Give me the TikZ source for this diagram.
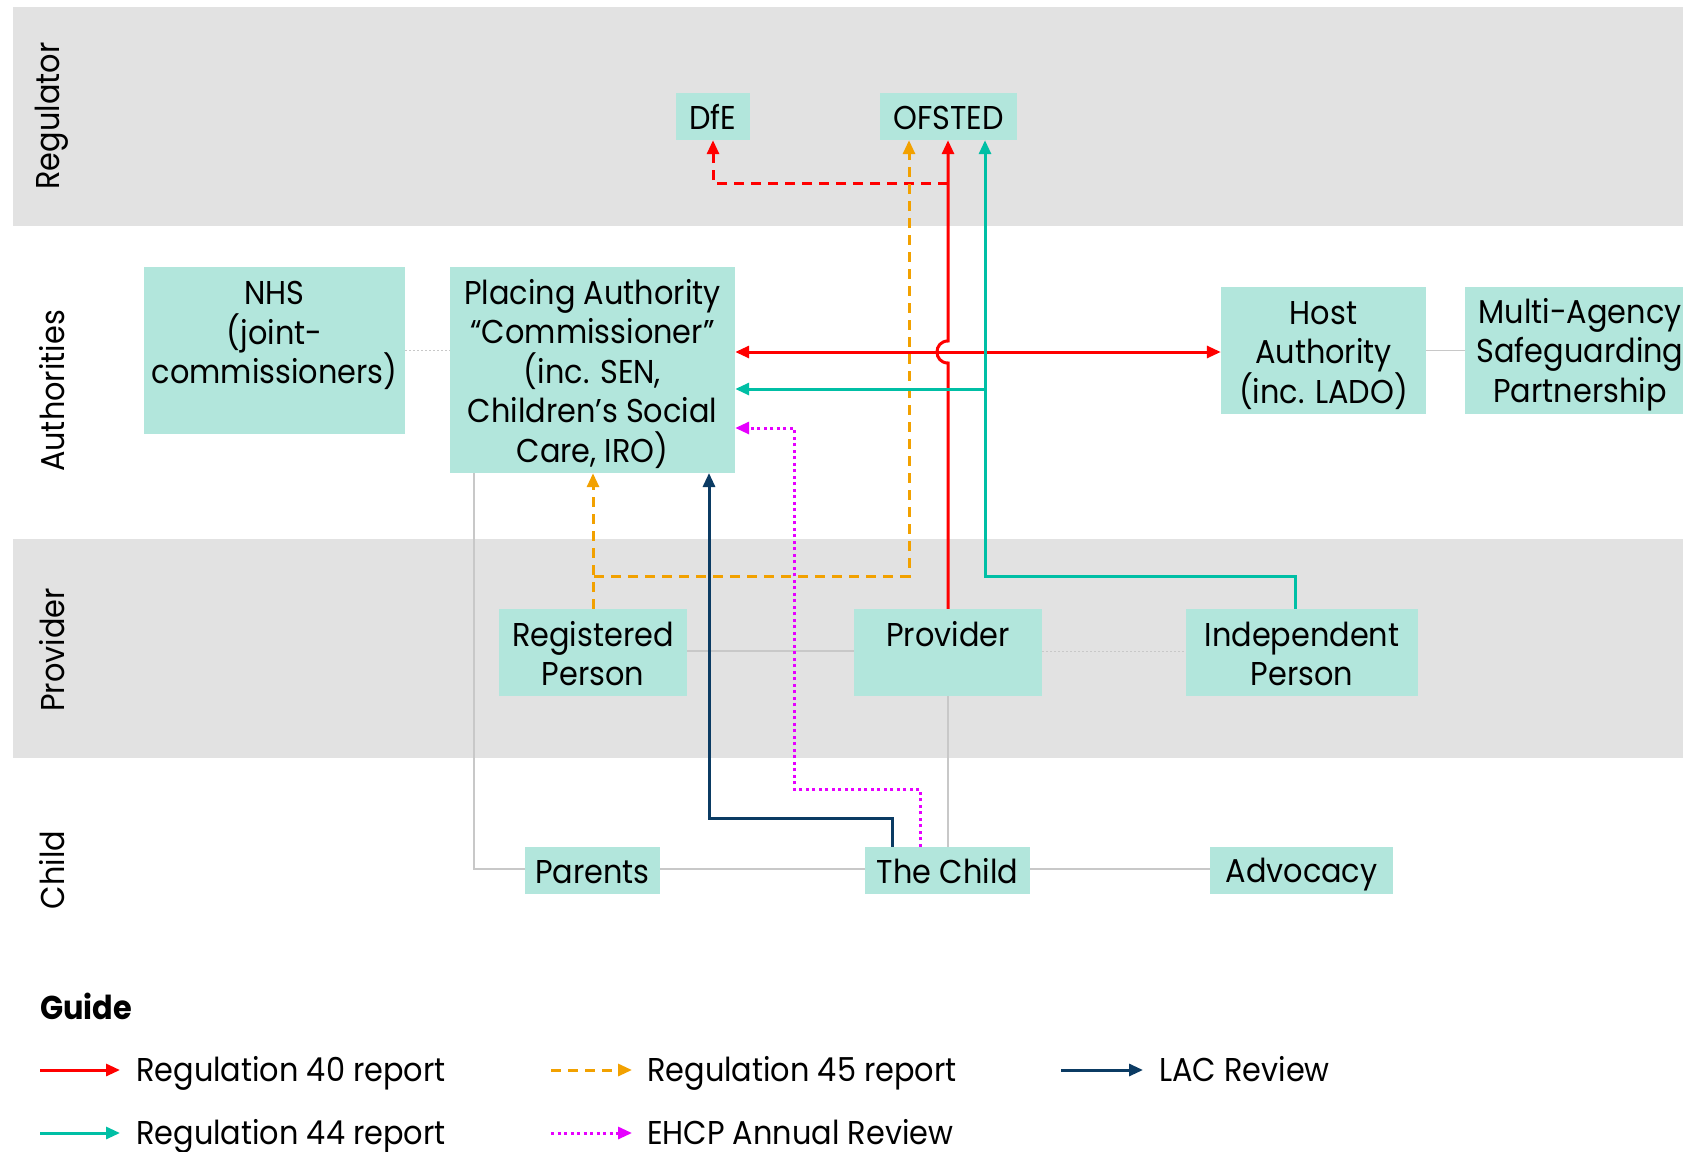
\documentclass[tikz,border=0pt]{standalone}
\usepackage{fontspec}
\setmainfont{Poppins}[FakeStretch=0.92]
\usetikzlibrary{arrows.meta,calc}
\definecolor{bandgray}{HTML}{E2E2E2}
\definecolor{boxfill}{HTML}{B2E6DC}
\definecolor{rred}{HTML}{FF0000}
\definecolor{rorange}{HTML}{F2A100}
\definecolor{rteal}{HTML}{00BFA5}
\definecolor{rnavy}{HTML}{0B3B63}
\definecolor{rmag}{HTML}{E600FF}
\definecolor{lgray}{HTML}{C8C8C8}
\newcommand\bs{\rule[-6.5pt]{0pt}{39.5pt}}
\newcommand\boxfont{\fontsize{33}{39.5}\selectfont\setlength{\lineskiplimit}{-200pt}}
\tikzset{
  box/.style={fill=boxfill, draw=none, inner sep=0pt, align=center,
    font=\boxfont},
  bandlabel/.style={rotate=90, inner sep=0pt, font=\fontsize{33}{40}\selectfont},
  legtext/.style={anchor=base west, inner sep=0pt, font=\fontsize{33}{40}\selectfont},
  tip/.style={-{Triangle[length=14pt,width=12pt]}},
  reg40/.style={tip, draw=rred, line width=3pt},
  reg40both/.style={{Triangle[length=14pt,width=12pt]}-{Triangle[length=14pt,width=12pt]}, draw=rred, line width=3pt},
  reg40d/.style={tip, draw=rred, line width=3pt, dash pattern=on 10pt off 7pt},
  reg45/.style={tip, draw=rorange, line width=3pt, dash pattern=on 10pt off 7pt},
  reg44/.style={tip, draw=rteal, line width=3pt},
  lac/.style={tip, draw=rnavy, line width=3pt},
  ehcp/.style={tip, draw=rmag, line width=3pt, dash pattern=on 3pt off 3.5pt},
  gline/.style={draw=lgray, line width=1.5pt},
  gdot/.style={draw=lgray, line width=1pt, dash pattern=on 1.5pt off 2.5pt},
}
\begin{document}
\begin{tikzpicture}[x=1pt,y=-1pt]
\useasboundingbox (0,0) rectangle (1683,1151);
\clip (0,0) rectangle (1683,1151);
% bands
\fill[bandgray] (13,7) rectangle (1683,226);
\fill[bandgray] (13,539) rectangle (1683,758);
\node[bandlabel] (lreg) at (52,116) {Regulator};
\node[bandlabel] (lauth) at (52,391) {Authorities};
\node[bandlabel] (lprov) at (52,650) {Provider};
\node[bandlabel] (lchild) at (52,870) {Child};
% boxes
\node[box, minimum width=74pt, minimum height=47pt] (dfe) at (713,116.5) {\bs DfE};
\node[box, minimum width=137pt, minimum height=47pt] (ofsted) at (948.5,116.5) {\bs OFSTED};
\node[box, minimum width=261pt, minimum height=167pt] (nhs) at (274.5,350.5) {\bs NHS\\\bs(joint-\\\bs commissioners)\\\bs};
\node[box, minimum width=285pt, minimum height=206pt] (placing) at (592.5,370) {\bs Placing Authority\\\bs “Commissioner”\\\bs(inc. SEN,\\\bs Children’s Social\\\bs Care, IRO)};
\node[box, minimum width=205pt, minimum height=127pt] (host) at (1323.5,350.5) {\bs Host\\\bs Authority\\\bs(inc. LADO)};
\node[box, minimum width=230pt, minimum height=127pt] (masp) at (1580,350.5) {\bs Multi-Agency\\\bs Safeguarding\\\bs Partnership};
\node[box, minimum width=188pt, minimum height=87pt] (rp) at (593,652.5) {\bs Registered\\\bs Person};
\node[box, minimum width=188pt, minimum height=87pt] (provider) at (948,652.5) {\bs Provider\\\bs};
\node[box, minimum width=232pt, minimum height=87pt] (ip) at (1302,652.5) {\bs Independent\\\bs Person};
\node[box, minimum width=135pt, minimum height=47pt] (parents) at (592.5,870.5) {\bs Parents};
\node[box, minimum width=165pt, minimum height=47pt] (child) at (947.5,870.5) {\bs The Child};
\node[box, minimum width=183pt, minimum height=47pt] (advocacy) at (1301.5,870.5) {\bs Advocacy};
% gray relations
\draw[gdot] (nhs.east) -- (nhs.east -| placing.west);
\draw[gline] (host.east) -- (host.east -| masp.west);
\draw[gline] ($(rp.east)+(0,-1.5)$) -- ($(rp.east -| provider.west)+(0,-1.5)$);
\draw[gdot] ($(provider.east)+(0,-1.5)$) -- ($(provider.east -| ip.west)+(0,-1.5)$);
\draw[gline] (provider.south) -- (provider.south |- child.north);
\draw[gline] ($(parents.east)+(0,-1.5)$) -- ($(child.west)+(0,-1.5)$);
\draw[gline] ($(child.east)+(0,-1.5)$) -- ($(advocacy.west)+(0,-1.5)$);
\draw[gline] ($(placing.south west)+(24,0)$) |- ($(parents.west)+(0,-1.5)$);
% coordinates
\coordinate (rj) at (948,183);
\coordinate (r40y) at (0,352);
\coordinate (t44) at (985,389);
\coordinate (o45) at (593,576);
% regulation 40
\draw[reg40] (provider.north) -- (948,363) .. controls (933.3,363) and (933.3,341) .. (948,341) -- (provider.north |- ofsted.south);
\draw[reg40d] (rj) -| (dfe.south);
\draw[reg40both] (placing.east |- r40y) -- (host.west |- r40y);
% regulation 45
\draw[reg45] (rp.north) -- (o45) -| ($(ofsted.south)+(-39.5,0)$);
\draw[reg45] (rp.north) -- (rp.north |- placing.south);
% regulation 44
\draw[reg44] ($(ip.north)+(-7,0)$) |- (985,576) -- ($(ofsted.south)+(36.5,0)$);
\draw[reg44] (t44) -- (t44 -| placing.east);
% LAC review
\draw[lac] ($(child.north)+(-55.5,0)$) |- (709,818) -- (709,473);
% EHCP
\draw[ehcp] ($(child.north)+(-27.5,0)$) |- (794,789) |- (placing.east |- 0,428);
% legend
\node[anchor=base west, inner sep=0pt, font=\fontsize{33}{40}\selectfont\bfseries] (guide) at (40,1019) {Guide};
\coordinate (l1a) at (40,1070); \coordinate (l1b) at (120,1070);
\coordinate (l2a) at (40,1133); \coordinate (l2b) at (120,1133);
\coordinate (l3a) at (551,1070); \coordinate (l3b) at (632,1070);
\coordinate (l4a) at (551,1133); \coordinate (l4b) at (632,1133);
\coordinate (l5a) at (1061,1070); \coordinate (l5b) at (1143,1070);
\draw[reg40] (l1a) -- (l1b);
\draw[reg44] (l2a) -- (l2b);
\draw[reg45] (l3a) -- (l3b);
\draw[ehcp] (l4a) -- (l4b);
\draw[lac] (l5a) -- (l5b);
\node[legtext] (t1) at (136,1081) {Regulation 40 report};
\node[legtext] (t2) at (136,1144) {Regulation 44 report};
\node[legtext] (t3) at (647,1081) {Regulation 45 report};
\node[legtext] (t4) at (647,1144) {EHCP Annual Review};
\node[legtext] (t5) at (1159,1081) {LAC Review};
\end{tikzpicture}
\end{document}
